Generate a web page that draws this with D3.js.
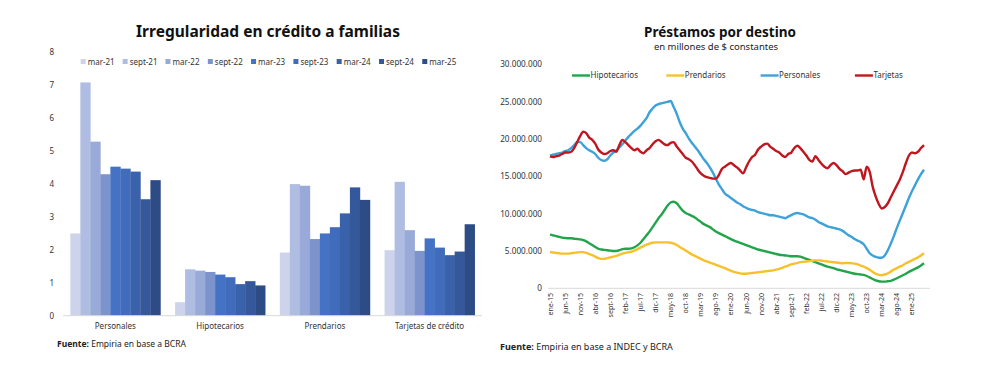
<!DOCTYPE html>
<html>
<head>
<meta charset="utf-8">
<script src="https://cdn.jsdelivr.net/npm/d3@7"></script>
<style>
	body { margin: 0; background: #fff; }
	svg { display: block; font-family: "Noto Sans", sans-serif; }
</style>
</head>
<body>
<svg id="chart" width="1000" height="375"></svg>
<script>
'use strict';

// ---- left chart: irregularidad (%)
const barCategories = ["Personales", "Hipotecarios", "Prendarios", "Tarjetas de crédito"];
const barPeriods = ["mar-21", "sept-21", "mar-22", "sept-22", "mar-23", "sept-23", "mar-24", "sept-24", "mar-25"];
const barColors = ["#ccd3ea", "#b0bde2", "#9aaad8", "#7d93cc", "#4472c4", "#416cbb", "#3a62aa", "#345899", "#2d4c86"];
const irrPersonales = [2.50, 7.09, 5.29, 4.30, 4.53, 4.47, 4.38, 3.54, 4.12];
const irrHipotecarios = [0.41, 1.41, 1.37, 1.33, 1.25, 1.17, 0.96, 1.05, 0.92];
const irrPrendarios = [1.92, 4.00, 3.95, 2.33, 2.50, 2.69, 3.11, 3.90, 3.52];
const irrTarjetas = [1.99, 4.07, 2.60, 1.97, 2.35, 2.07, 1.84, 1.95, 2.78];
const barTicks = [0, 1, 2, 3, 4, 5, 6, 7, 8];

// ---- right chart: préstamos (millones de $ constantes), monthly ene-15 .. may-25
const monthAbbr = ["ene", "feb", "mar", "abr", "may", "jun", "jul", "ago", "sept", "oct", "nov", "dic"];
const startYear = 2015;
const lineTicks = [0, 5, 10, 15, 20, 25, 30];

const hipotecarios = [7.2,7.1,7.0,6.9,6.8,6.75,6.7,6.7,6.65,6.6,
	6.55,6.45,6.3,6.05,5.8,5.55,5.3,5.2,5.15,5.1,
	5.05,5.0,5.0,5.1,5.25,5.3,5.3,5.35,5.5,5.75,
	6.1,6.6,7.1,7.6,8.2,8.8,9.4,9.9,10.5,11.1,
	11.5,11.6,11.4,10.9,10.4,10.1,9.9,9.7,9.5,9.2,
	8.9,8.6,8.4,8.2,7.9,7.6,7.4,7.2,7.0,6.8,
	6.6,6.4,6.25,6.1,5.95,5.8,5.65,5.5,5.35,5.2,
	5.1,5.0,4.9,4.8,4.7,4.6,4.5,4.45,4.4,4.35,
	4.3,4.3,4.3,4.25,4.1,3.95,3.8,3.65,3.5,3.35,
	3.2,3.05,2.9,2.8,2.7,2.55,2.45,2.35,2.25,2.15,
	2.05,1.95,1.9,1.85,1.8,1.65,1.45,1.25,1.05,0.95,
	0.9,0.9,0.95,1.0,1.15,1.35,1.55,1.75,1.95,2.2,
	2.4,2.6,2.8,3.05,3.35];

const prendarios = [4.85,4.8,4.75,4.7,4.65,4.65,4.65,4.7,4.75,4.8,
	4.85,4.85,4.75,4.6,4.45,4.25,4.05,3.95,3.95,4.05,
	4.15,4.25,4.35,4.5,4.65,4.75,4.85,4.9,5.05,5.25,
	5.45,5.65,5.85,6.0,6.1,6.15,6.15,6.15,6.15,6.15,
	6.1,6.0,5.8,5.55,5.3,5.05,4.8,4.55,4.35,4.15,
	3.95,3.75,3.6,3.45,3.3,3.15,3.0,2.85,2.7,2.5,
	2.35,2.2,2.1,2.0,1.95,1.95,2.0,2.05,2.1,2.15,
	2.2,2.25,2.3,2.35,2.4,2.5,2.6,2.75,2.9,3.05,
	3.2,3.3,3.4,3.5,3.55,3.6,3.65,3.7,3.75,3.75,
	3.7,3.65,3.6,3.55,3.5,3.45,3.4,3.35,3.4,3.4,
	3.35,3.3,3.2,3.05,2.9,2.7,2.5,2.2,1.95,1.8,
	1.75,1.85,2.0,2.25,2.5,2.7,2.9,3.1,3.35,3.55,
	3.75,3.95,4.15,4.4,4.7];

const personales = [17.8,17.9,18.0,18.1,18.2,18.4,18.5,18.8,19.2,19.6,
	19.6,19.2,18.8,18.5,18.3,18.0,17.5,17.2,17.1,17.3,
	17.8,18.2,18.5,18.9,19.3,19.8,20.3,20.7,21.1,21.4,
	21.8,22.3,22.8,23.6,24.1,24.5,24.7,24.8,24.9,25.0,
	25.1,24.3,23.4,22.3,21.4,20.8,20.1,19.5,19.0,18.5,
	17.9,17.3,16.8,16.2,15.5,14.7,13.9,13.3,12.7,12.4,
	12.1,11.8,11.5,11.3,11.0,10.8,10.6,10.5,10.4,10.2,
	10.1,10.0,9.9,9.8,9.8,9.7,9.6,9.5,9.4,9.6,
	9.8,10.0,10.1,10.0,9.9,9.7,9.5,9.4,9.2,8.9,
	8.7,8.5,8.3,8.2,8.1,8.0,7.9,7.7,7.4,7.1,
	6.9,6.6,6.4,6.2,5.9,5.3,4.7,4.4,4.2,4.1,
	4.1,4.4,5.1,6.0,7.0,8.1,9.1,10.1,11.1,12.1,
	13.0,13.8,14.6,15.3,15.9];

const tarjetas = [17.7,17.6,17.7,17.8,18.0,18.2,18.2,18.3,18.8,19.6,
	20.4,21.0,20.8,20.2,19.9,19.4,18.6,18.2,18.0,18.1,
	18.4,18.5,18.3,19.2,19.9,19.6,19.2,18.8,18.5,18.7,
	18.3,18.1,18.5,18.8,19.3,19.7,19.9,19.6,19.3,19.2,
	19.5,19.6,19.0,18.5,18.0,17.5,17.3,17.0,16.5,15.9,
	15.4,15.1,14.9,14.8,14.7,14.7,15.2,16.0,16.3,16.6,
	16.8,16.5,16.2,15.8,15.4,16.2,17.0,17.6,17.9,18.6,
	19.0,19.3,19.4,19.0,18.7,18.4,18.2,17.8,17.6,18.0,
	18.2,18.8,19.1,18.8,18.3,17.8,17.2,17.0,17.7,17.2,
	16.7,16.3,16.1,16.5,16.8,16.5,16.0,15.7,15.3,15.5,
	15.7,15.8,15.8,15.9,14.6,16.3,15.6,13.6,12.3,11.3,
	10.7,10.9,11.4,12.2,13.0,13.8,14.6,15.6,16.8,17.8,
	18.2,18.1,18.3,18.8,19.2];

const lineNames = ["Hipotecarios", "Prendarios", "Personales", "Tarjetas"];
const lineColors = ["#22a44a", "#f7c12b", "#3da2da", "#c0161f"];


const svg = d3.select("#chart");
svg.append("rect").attr("width", 1000).attr("height", 375).attr("fill", "#fff");

// =============== LEFT: bars
let left = svg.append("g").attr("class", "left");

left.append("text")
	.attr("x", 268).attr("y", 37)
	.attr("text-anchor", "middle")
	.style("font-size", "15.5px").style("font-weight", "bold").attr("fill", "#111")
	.text("Irregularidad en crédito a familias");

let yL = d3.scaleLinear().domain([0, 8]).range([315.7, 52.5]);
let x0 = d3.scaleBand().domain(barCategories).range([63, 482]).paddingInner(0.14).paddingOuter(0.07);
let x1 = d3.scaleBand().domain(barPeriods).range([0, x0.bandwidth()]);
let colorL = d3.scaleOrdinal().domain(barPeriods).range(barColors);

left.selectAll(".ytick")
	.data(barTicks)
	.enter().append("text")
	.attr("x", 54).attr("y", function(d){ return yL(d); })
	.attr("dy", "0.35em").attr("text-anchor", "end")
	.style("font-size", "8px").attr("fill", "#333")
	.text(function(d){ return d; });

let barRows = barCategories.map(function(c, i){
	return { cat: c, values: [irrPersonales, irrHipotecarios, irrPrendarios, irrTarjetas][i] };
});

let groups = left.selectAll(".grp")
	.data(barRows)
	.enter().append("g")
	.attr("transform", function(d){ return "translate(" + x0(d.cat) + ",0)"; });

groups.selectAll("rect")
	.data(function(d){ return d.values.map(function(v, j){ return { period: barPeriods[j], value: v }; }); })
	.enter().append("rect")
	.attr("x", function(d){ return x1(d.period); })
	.attr("y", function(d){ return yL(d.value); })
	.attr("width", x1.bandwidth() + 0.3)
	.attr("height", function(d){ return yL(0) - yL(d.value); })
	.attr("fill", function(d){ return colorL(d.period); });

left.append("line")
	.attr("x1", 63).attr("x2", 482)
	.attr("y1", yL(0)).attr("y2", yL(0))
	.attr("stroke", "#d9d9d9").attr("stroke-width", 1);

left.selectAll(".xlab")
	.data(barCategories)
	.enter().append("text")
	.attr("x", function(d){ return x0(d) + x0.bandwidth() / 2; })
	.attr("y", 329)
	.attr("text-anchor", "middle")
	.style("font-size", "8px").attr("fill", "#333")
	.text(function(d){ return d; });

// legend
let legL = left.append("g");
let items = legL.selectAll("g").data(barPeriods).enter().append("g");
items.append("rect").attr("width", 5).attr("height", 5).attr("y", 59)
	.attr("fill", function(d){ return colorL(d); });
items.append("text").attr("x", 7).attr("y", 64.5)
	.style("font-size", "8px").attr("fill", "#333")
	.text(function(d){ return d; });
let widths = [];
items.each(function(){ widths.push(this.getBBox().width); });
let legStart = 80.7, legEnd = 456.7;
let gap = (legEnd - legStart - d3.sum(widths)) / (barPeriods.length - 1);
let cx = legStart;
items.attr("transform", function(d, i){
	let t = "translate(" + cx + ",0)";
	cx += widths[i] + gap;
	return t;
});

let fuenteL = left.append("text").attr("x", 57).attr("y", 347)
	.style("font-size", "8.5px").attr("fill", "#222");
fuenteL.append("tspan").style("font-weight", "bold").text("Fuente: ");
fuenteL.append("tspan").text("Empiria en base a BCRA");

// =============== RIGHT: lines
let right = svg.append("g").attr("class", "right");

right.append("text")
	.attr("x", 720).attr("y", 37)
	.attr("text-anchor", "middle")
	.style("font-size", "13.5px").style("font-weight", "bold").attr("fill", "#111")
	.text("Préstamos por destino");
right.append("text")
	.attr("x", 716).attr("y", 50)
	.attr("text-anchor", "middle")
	.style("font-size", "9.5px").attr("fill", "#222")
	.text("en millones de $ constantes");

let nMonths = personales.length;
let xR = d3.scaleLinear().domain([0, nMonths - 1]).range([550, 924]);
let yR = d3.scaleLinear().domain([0, 30]).range([288.3, 64.5]);

let esLocale = d3.formatLocale({ decimal: ",", thousands: ".", grouping: [3], currency: ["$", ""] });
let fmtMillions = esLocale.format(",");

right.selectAll(".ytick")
	.data(lineTicks)
	.enter().append("text")
	.attr("x", 542).attr("y", function(d){ return yR(d); })
	.attr("dy", "0.35em").attr("text-anchor", "end")
	.style("font-size", "8.2px").attr("fill", "#333")
	.text(function(d){ return fmtMillions(d * 1e6); });

right.append("line")
	.attr("x1", 548).attr("x2", 930)
	.attr("y1", yR(0)).attr("y2", yR(0))
	.attr("stroke", "#d9d9d9").attr("stroke-width", 1);

let monthLabel = function(i){
	let m = i % 12, y = startYear + Math.floor(i / 12);
	return monthAbbr[m] + "-" + String(y).slice(2);
};
let xTickIdx = d3.range(0, nMonths, 5).filter(function(i){ return i <= 120; });

right.selectAll(".xtick")
	.data(xTickIdx)
	.enter().append("text")
	.attr("transform", function(d){ return "translate(" + (xR(d) + 2.5) + ",293) rotate(-90)"; })
	.attr("text-anchor", "end")
	.style("font-size", "7px").attr("fill", "#333")
	.text(monthLabel);

let series = [hipotecarios, prendarios, personales, tarjetas];
let line = d3.line()
	.x(function(d, i){ return xR(i); })
	.y(function(d){ return yR(d); })
	.curve(d3.curveMonotoneX);

right.selectAll(".series")
	.data(series)
	.enter().append("path")
	.attr("d", line)
	.attr("fill", "none")
	.attr("stroke", function(d, i){ return lineColors[i]; })
	.attr("stroke-width", 2.4)
	.attr("stroke-linejoin", "round");

// legend
let legR = right.selectAll(".leg")
	.data(lineNames)
	.enter().append("g")
	.attr("transform", function(d, i){ return "translate(" + (572 + i * 94.3) + ",75.5)"; });
legR.append("line").attr("x1", 0).attr("x2", 18)
	.attr("stroke", function(d, i){ return lineColors[i]; }).attr("stroke-width", 2.4);
legR.append("text").attr("x", 18.5).attr("dy", "0.35em")
	.style("font-size", "8px").attr("fill", "#333")
	.text(function(d){ return d; });

let fuenteR = right.append("text").attr("x", 500).attr("y", 350)
	.style("font-size", "9px").attr("fill", "#222");
fuenteR.append("tspan").style("font-weight", "bold").text("Fuente: ");
fuenteR.append("tspan").text("Empiria en base a INDEC y BCRA");
</script>
</body>
</html>
